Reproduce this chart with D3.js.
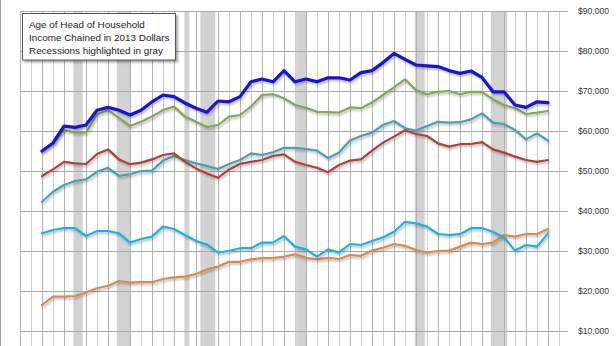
<!DOCTYPE html>
<html>
<head>
<meta charset="utf-8">
<script src="https://cdn.jsdelivr.net/npm/d3@7/dist/d3.min.js"></script>
<style>
  html, body { margin: 0; padding: 0; background: #fff; overflow: hidden; }
  svg { display: block; }
</style>
</head>
<body>
<svg id="chart" width="616" height="346"></svg>
<script>
// ---- Data ----
const years = d3.range(1967, 2014);
const seriesBlue = [55000,57000,61200,60900,61500,65200,65900,65200,64000,65200,67300,69000,68600,67000,65700,64700,67500,67300,68600,72300,73000,72300,75100,72300,73000,72300,73300,73300,72750,74600,75100,77100,79400,77900,76500,76300,76100,75100,74400,75000,73400,69800,69800,66500,65900,67300,67100];
const seriesGreen = [55000,56900,60250,59600,59600,64200,65200,63300,61250,62300,63600,65250,66100,63600,62300,61000,61500,63600,64000,66100,69000,69200,68200,66500,65800,64800,64700,64600,65900,65700,67100,69000,70900,72900,70250,69200,69800,70000,69200,69800,69800,67900,66500,65700,64250,64600,65000];
const seriesRed = [48750,50400,52300,51900,51750,54250,55400,52900,51700,52100,52900,54000,54400,52300,50650,49400,48300,50400,51750,52300,52750,53750,54150,52300,51500,50800,49700,51500,52600,52900,55100,57100,58600,60200,59250,58750,56900,56100,56700,56750,57200,55400,54600,53600,52750,52300,52750];
const seriesTeal = [42300,44800,46500,47500,47900,49800,50800,48750,49200,50000,50100,52600,53750,52750,51900,51250,50500,51750,52750,54400,54000,54700,55800,55800,55500,55100,53200,54600,57600,58750,59600,61500,62500,60700,60100,61250,62300,62100,62200,62900,64400,62100,61750,60250,57900,59400,57600];
const seriesCyan = [34400,35250,35700,35700,33750,35000,35000,34400,32100,33000,33600,36100,35500,34000,32500,31600,29600,30000,30700,30700,32100,32100,33750,31100,30400,28600,30400,29600,31750,31500,32500,33400,34800,37300,36900,36100,34250,34000,34200,35700,35700,34800,33400,30100,31500,31100,34400];
const seriesOrange = [16500,18600,18600,18750,19600,20700,21300,22500,22100,22200,22200,23000,23400,23600,24250,25400,26100,27300,27300,27900,28200,28200,28600,29200,28300,27900,28300,28000,29000,28800,30100,30800,31750,31300,30250,29600,30000,30100,31100,32100,31750,32100,34000,33600,34250,34250,35500];
const recessions = [[1969.85,1970.7],[1973.8,1975.0],[1979.95,1980.4],[1981.4,1982.75],[1990.1,1991.0],[2000.9,2001.8],[2007.8,2009.3]];
const yTicks = [10000,20000,30000,40000,50000,60000,70000,80000,90000];
const legendLines = ["Age of Head of Household","Income Chained in 2013 Dollars","Recessions highlighted in gray"];

// ---- Layout ----
const svg = d3.select("#chart");
const W = 616, H = 346;
const plotLeft = 20, plotRight = 568, plotTop = 11;
const x = d3.scaleLinear().domain([1965, 2014.82]).range([plotLeft, plotRight]);
const y = d3.scaleLinear().domain([0, 90000]).range([371, plotTop]);

const defs = svg.append("defs");
const f = defs.append("filter").attr("id","shadow").attr("x","-5%").attr("y","-5%").attr("width","110%").attr("height","120%");
f.append("feDropShadow").attr("dx",1.2).attr("dy",1.8).attr("stdDeviation",0.9)
  .attr("flood-color","#000").attr("flood-opacity",0.28);
const f2 = defs.append("filter").attr("id","boxshadow").attr("x","-10%").attr("y","-10%").attr("width","130%").attr("height","150%");
f2.append("feDropShadow").attr("dx",2).attr("dy",2).attr("stdDeviation",1.2)
  .attr("flood-color","#000").attr("flood-opacity",0.35);

// left border
svg.append("line").attr("x1",0.5).attr("x2",0.5).attr("y1",0).attr("y2",H)
  .attr("stroke","#a0a0a0").attr("stroke-width",1);

// recession bands
svg.append("g").selectAll("rect").data(recessions).join("rect")
  .attr("x", d => x(d[0])).attr("width", d => x(d[1]) - x(d[0]))
  .attr("y", plotTop).attr("height", H - plotTop)
  .attr("fill", "#d3d3d3");

// vertical gridlines (each year)
const gridYears = d3.range(1965, 2015);
svg.append("g").selectAll("line").data(gridYears).join("line")
  .attr("x1", d => Math.round(x(d)) + 0.5).attr("x2", d => Math.round(x(d)) + 0.5)
  .attr("y1", plotTop).attr("y2", H)
  .attr("stroke", (d,i) => i % 2 === 1 ? "#cfcfcf" : "#b3b3b3").attr("stroke-width", 1);

// horizontal gridlines
svg.append("g").selectAll("line").data(yTicks).join("line")
  .attr("x1", plotLeft).attr("x2", plotRight)
  .attr("y1", d => Math.round(y(d)) + 0.5).attr("y2", d => Math.round(y(d)) + 0.5)
  .attr("stroke", "#a8a8a8").attr("stroke-width", 1);

// y axis labels on right
const yAxis = d3.axisRight(y).tickValues(yTicks).tickSize(0).tickPadding(0)
  .tickFormat(d => "$" + d3.format(",")(d));
const ga = svg.append("g").attr("transform", `translate(578,0)`).call(yAxis);
ga.select(".domain").remove();
ga.selectAll("text").attr("font-family","Liberation Sans, Arial, sans-serif")
  .attr("font-size","8.6px").attr("fill","#333").attr("text-anchor","start");

// lines
const series = [
  {vals: seriesOrange, color: "#d98a4f", w: 2.2},
  {vals: seriesCyan, color: "#1fb0e3", w: 2.2},
  {vals: seriesTeal, color: "#489fb5", w: 2.2},
  {vals: seriesRed, color: "#ad433d", w: 2.2},
  {vals: seriesGreen, color: "#87a55a", w: 2.2},
  {vals: seriesBlue, color: "#1717d2", w: 3.2}
];
const line = d3.line().x((d,i) => x(years[i])).y(d => y(d));
svg.append("g").selectAll("path").data(series).join("path")
  .attr("d", d => line(d.vals))
  .attr("fill","none").attr("stroke", d => d.color).attr("stroke-width", d => d.w)
  .attr("stroke-linejoin","round").attr("stroke-linecap","round")
  .attr("filter","url(#shadow)");

// legend box
const lg = svg.append("g");
lg.append("rect").attr("x",22.5).attr("y",13.5).attr("width",153).attr("height",46.5)
  .attr("fill","#fff").attr("stroke","#555").attr("stroke-width",1).attr("filter","url(#boxshadow)");
lg.selectAll("text").data(legendLines).join("text")
  .attr("x", 29).attr("y", (d,i) => 27.5 + i*13)
  .attr("font-family","Liberation Sans, Arial, sans-serif").attr("font-size","9.9px")
  .attr("fill","#222").text(d => d);
</script>
</body>
</html>
